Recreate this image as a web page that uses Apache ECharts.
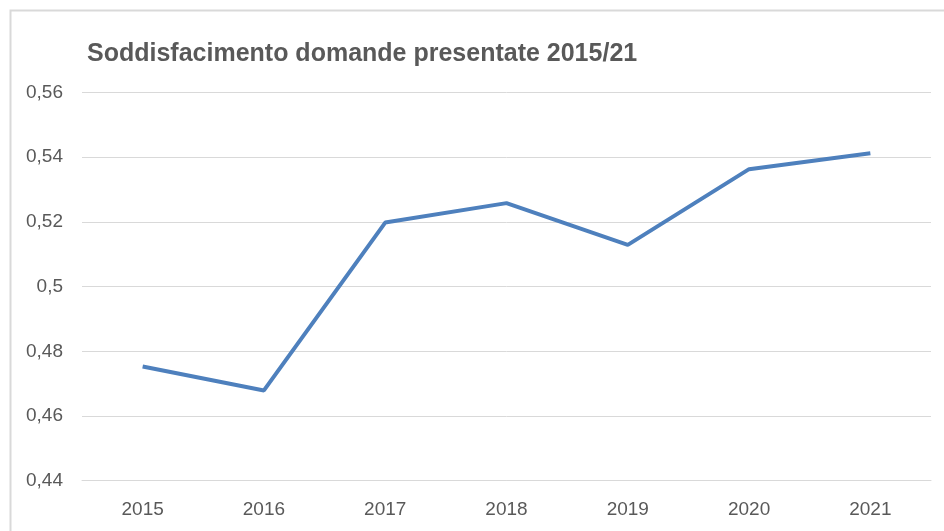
<!DOCTYPE html>
<html>
<head>
<meta charset="utf-8">
<script src="https://cdn.jsdelivr.net/npm/echarts@6/dist/echarts.min.js"></script>
<style>
html,body{margin:0;padding:0;background:#fff;}
#chart{width:944px;height:531px;}
</style>
</head>
<body>
<div id="chart"></div>
<script>
const titleText = "Soddisfacimento domande presentate 2015/21";
const years = ["2015", "2016", "2017", "2018", "2019", "2020", "2021"];
const values = [0.4753, 0.4679, 0.5198, 0.5258, 0.5129, 0.5363, 0.5412];
const yMin = 0.44, yMax = 0.56, yStep = 0.02;

const chart = echarts.init(document.getElementById('chart'));
chart.setOption({
  animation: false,
  backgroundColor: '#ffffff',
  graphic: [{
    type: 'polyline',
    shape: { points: [[10.5, 540], [10.5, 10.5], [944, 10.5]] },
    style: { stroke: '#d9d9d9', lineWidth: 2, fill: null },
    silent: true
  }],
  title: {
    text: titleText,
    left: 82, top: 37,
    textStyle: { fontFamily: 'Liberation Sans, Arial, sans-serif', fontSize: 25, fontWeight: 'bold', color: '#595959' }
  },
  grid: { left: 82, right: 13, top: 92.5, bottom: 50.3 },
  xAxis: {
    type: 'category',
    data: years,
    boundaryGap: true,
    axisLine: { show: true, lineStyle: { color: '#d9d9d9', width: 1 } },
    axisTick: { show: false },
    axisLabel: { color: '#595959', fontSize: 19, fontFamily: 'Liberation Sans, Arial, sans-serif', margin: 20 }
  },
  yAxis: {
    type: 'value',
    min: yMin, max: yMax, interval: yStep,
    axisLine: { show: false },
    axisTick: { show: false },
    splitLine: { lineStyle: { color: '#d9d9d9', width: 1 } },
    axisLabel: {
      color: '#595959', fontSize: 19, fontFamily: 'Liberation Sans, Arial, sans-serif', margin: 19,
      formatter: v => String(parseFloat(v.toFixed(2))).replace('.', ',')
    }
  },
  series: [{
    type: 'line',
    data: values,
    symbol: 'none',
    lineStyle: { color: '#4e80bd', width: 4 },
    itemStyle: { color: '#4e80bd' }
  }]
});
</script>
</body>
</html>
